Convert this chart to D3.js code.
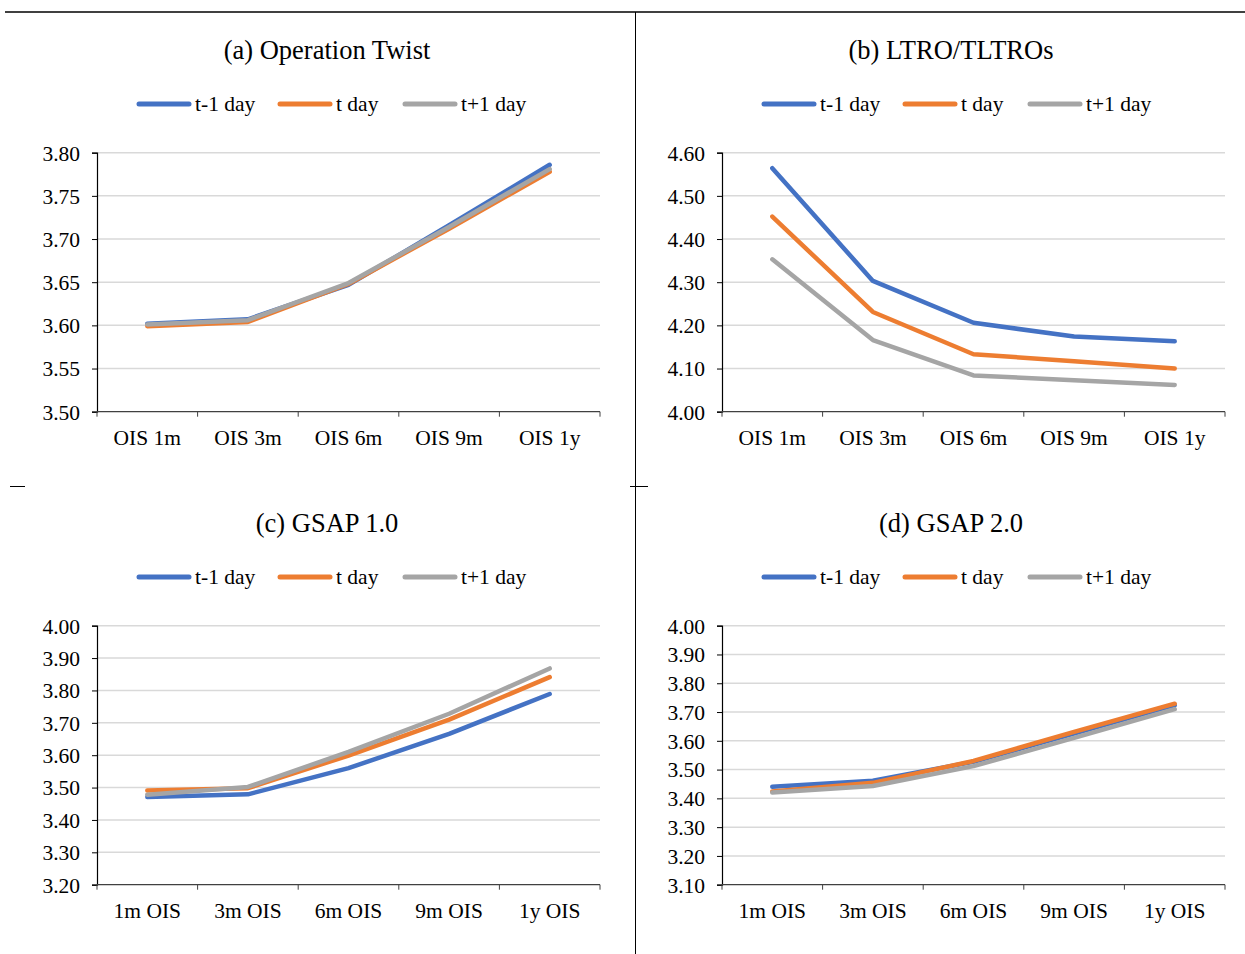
<!DOCTYPE html>
<html>
<head>
<meta charset="utf-8">
<script src="https://cdn.jsdelivr.net/npm/d3@7"></script>
<style>
  body { margin: 0; background: #fff; }
  svg text { font-family: "Liberation Serif", "Times New Roman", serif; fill: #000; }
</style>
</head>
<body>
<svg id="chart" width="1245" height="954"></svg>
<script>
// ---------------------------- DATA ----------------------------
const seriesNames = ["t-1 day", "t day", "t+1 day"];
const seriesColours = ["#4472C4", "#ED7D31", "#A5A5A5"];

const categoriesTop = ["OIS 1m", "OIS 3m", "OIS 6m", "OIS 9m", "OIS 1y"];
const categoriesBottom = ["1m OIS", "3m OIS", "6m OIS", "9m OIS", "1y OIS"];

// (a) Operation Twist
const twistPrev = [3.602, 3.607, 3.647, 3.716, 3.786];
const twistDay = [3.599, 3.604, 3.648, 3.712, 3.778];
const twistNext = [3.601, 3.606, 3.649, 3.714, 3.781];
const twistTicks = [3.50, 3.55, 3.60, 3.65, 3.70, 3.75, 3.80];

// (b) LTRO/TLTROs
const ltroPrev = [4.564, 4.303, 4.206, 4.174, 4.163];
const ltroDay = [4.452, 4.231, 4.133, 4.117, 4.100];
const ltroNext = [4.353, 4.166, 4.084, 4.073, 4.062];
const ltroTicks = [4.00, 4.10, 4.20, 4.30, 4.40, 4.50, 4.60];

// (c) GSAP 1.0
const gsap1Prev = [3.471, 3.479, 3.560, 3.666, 3.789];
const gsap1Day = [3.491, 3.498, 3.599, 3.710, 3.841];
const gsap1Next = [3.478, 3.502, 3.610, 3.728, 3.868];
const gsap1Ticks = [3.20, 3.30, 3.40, 3.50, 3.60, 3.70, 3.80, 3.90, 4.00];

// (d) GSAP 2.0
const gsap2Prev = [3.440, 3.461, 3.527, 3.625, 3.724];
const gsap2Day = [3.424, 3.454, 3.530, 3.631, 3.729];
const gsap2Next = [3.420, 3.443, 3.512, 3.610, 3.710];
const gsap2Ticks = [3.10, 3.20, 3.30, 3.40, 3.50, 3.60, 3.70, 3.80, 3.90, 4.00];

// ---------------------------- PANEL SETUP ----------------------------
const fontFamily = '"Liberation Serif", "Times New Roman", serif';

const panels = [
    { title: "(a) Operation Twist", cats: categoriesTop, series: [twistPrev, twistDay, twistNext], ticks: twistTicks,
      oy: 0, left: 97, right: 600, titleX: 327, legendX: 137 },
    { title: "(b) LTRO/TLTROs", cats: categoriesTop, series: [ltroPrev, ltroDay, ltroNext], ticks: ltroTicks,
      oy: 0, left: 722, right: 1225, titleX: 951, legendX: 762 },
    { title: "(c) GSAP 1.0", cats: categoriesBottom, series: [gsap1Prev, gsap1Day, gsap1Next], ticks: gsap1Ticks,
      oy: 473, left: 97, right: 600, titleX: 327, legendX: 137 },
    { title: "(d) GSAP 2.0", cats: categoriesBottom, series: [gsap2Prev, gsap2Day, gsap2Next], ticks: gsap2Ticks,
      oy: 473, left: 722, right: 1225, titleX: 951, legendX: 762 }
];
const plotTop = 152.7;
const plotBottom = 411.7;

const svg = d3.select("#chart");

// Frame lines of the figure
svg.append("line").attr("x1", 5).attr("x2", 1245).attr("y1", 12).attr("y2", 12)
    .attr("stroke", "#000").attr("stroke-width", 1.5);
svg.append("line").attr("x1", 635.5).attr("x2", 635.5).attr("y1", 12).attr("y2", 954)
    .attr("stroke", "#000").attr("stroke-width", 1);
svg.append("line").attr("x1", 10).attr("x2", 25).attr("y1", 486.5).attr("y2", 486.5)
    .attr("stroke", "#000").attr("stroke-width", 1);
svg.append("line").attr("x1", 630).attr("x2", 648).attr("y1", 486.5).attr("y2", 486.5)
    .attr("stroke", "#000").attr("stroke-width", 1);

function drawPanel(p) {
    const g = svg.append("g").attr("transform", "translate(0," + p.oy + ")");

    const x = d3.scaleBand().domain(p.cats).range([p.left, p.right]);
    const yMin = d3.min(p.ticks), yMax = d3.max(p.ticks);
    const y = d3.scaleLinear().domain([yMin, yMax]).range([plotBottom, plotTop]);

    // Title
    g.append("text")
        .attr("x", p.titleX)
        .attr("y", 59)
        .attr("text-anchor", "middle")
        .style("font-family", fontFamily)
        .style("font-size", "26.5px")
        .text(p.title);

    // Legend
    const leg = g.append("g").attr("transform", "translate(" + p.legendX + ",104)");
    const legOffsets = [0, 141, 266];
    seriesNames.forEach((name, i) => {
        leg.append("line")
            .attr("x1", legOffsets[i] + 2).attr("x2", legOffsets[i] + 52)
            .attr("y1", 0).attr("y2", 0)
            .attr("stroke", seriesColours[i])
            .attr("stroke-width", 5)
            .attr("stroke-linecap", "round");
        leg.append("text")
            .attr("x", legOffsets[i] + 58)
            .attr("y", 7)
            .style("font-family", fontFamily)
            .style("font-size", "21.5px")
            .text(name);
    });

    // Gridlines
    g.append("g")
        .selectAll("line")
        .data(p.ticks.filter(t => t !== yMin))
        .enter()
        .append("line")
        .attr("x1", p.left).attr("x2", p.right)
        .attr("y1", d => y(d)).attr("y2", d => y(d))
        .attr("stroke", "#D9D9D9")
        .attr("stroke-width", 1.5);

    // Y axis
    const yAxis = g.append("g")
        .attr("transform", "translate(" + p.left + ",0)")
        .call(d3.axisLeft(y).tickValues(p.ticks).tickFormat(d3.format(".2f")).tickSize(5).tickPadding(12));
    yAxis.attr("font-family", fontFamily);
    yAxis.select(".domain").attr("stroke", "#000").attr("stroke-width", 1.2);
    yAxis.selectAll(".tick line").attr("stroke", "#000");
    yAxis.selectAll("text")
        .style("font-family", fontFamily)
        .style("font-size", "21.5px")
        .attr("dy", "0.34em");

    // X axis
    const xAxis = g.append("g")
        .attr("transform", "translate(0," + plotBottom + ")");
    xAxis.append("line")
        .attr("x1", p.left).attr("x2", p.right)
        .attr("y1", 0).attr("y2", 0)
        .attr("stroke", "#404040").attr("stroke-width", 1.2);
    const boundaries = p.cats.map(c => x(c)).concat([p.right]);
    xAxis.selectAll(".xtick")
        .data(boundaries)
        .enter()
        .append("line")
        .attr("class", "xtick")
        .attr("x1", d => d).attr("x2", d => d)
        .attr("y1", 0).attr("y2", 5)
        .attr("stroke", "#404040");
    xAxis.selectAll(".xlabel")
        .data(p.cats)
        .enter()
        .append("text")
        .attr("class", "xlabel")
        .attr("x", d => x(d) + x.bandwidth() / 2)
        .attr("y", 33.5)
        .attr("text-anchor", "middle")
        .style("font-family", fontFamily)
        .style("font-size", "21.5px")
        .text(d => d);

    // Lines
    const line = d3.line()
        .x((d, i) => x(p.cats[i]) + x.bandwidth() / 2)
        .y(d => y(d));
    p.series.forEach((values, i) => {
        g.append("path")
            .datum(values)
            .attr("d", line)
            .attr("fill", "none")
            .attr("stroke", seriesColours[i])
            .attr("stroke-width", 4.5)
            .attr("stroke-linecap", "round")
            .attr("stroke-linejoin", "round");
    });
}

panels.forEach(drawPanel);
</script>
</body>
</html>
